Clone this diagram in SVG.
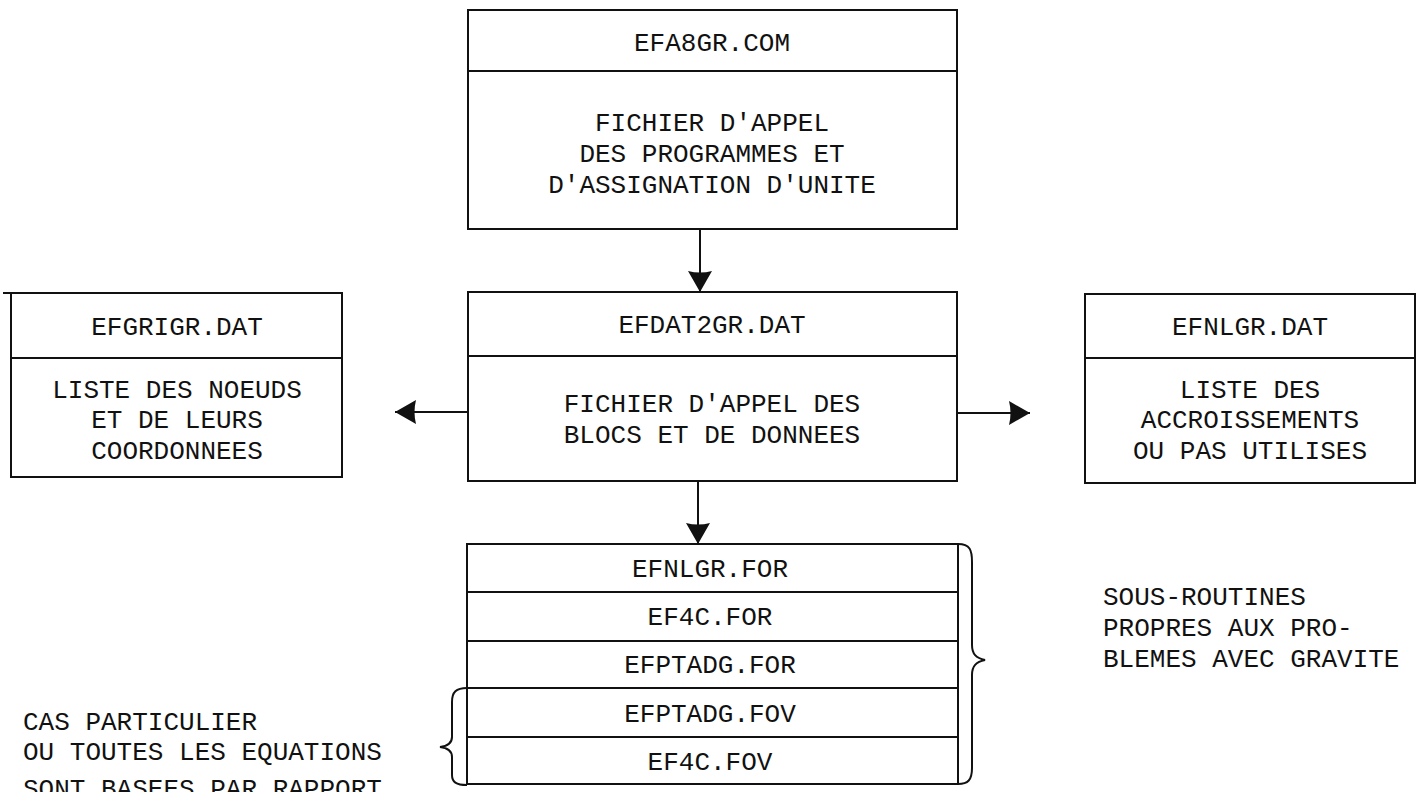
<svg xmlns="http://www.w3.org/2000/svg" width="1425" height="792" viewBox="0 0 1425 792">
<style>
.box{fill:none;stroke:#111;stroke-width:2}
.ln{fill:none;stroke:#111;stroke-width:2}
.t{font-family:"Liberation Mono","Courier New",monospace;font-size:26px;fill:#111}
.c{text-anchor:middle}
</style>
<defs>
<marker id="ah" markerUnits="userSpaceOnUse" markerWidth="26" markerHeight="28" refX="21" refY="13" orient="auto">
<path d="M0,1 L21,13 L0,25 Q3,13 0,1 z" fill="#111"/>
</marker>
</defs>
<rect width="1425" height="792" fill="#fff"/>
<g id="n-efa8gr">
<rect class="box" x="468" y="10" width="489" height="219"/>
<line class="ln" x1="468" y1="71" x2="957" y2="71"/>
<text class="t c" x="712" y="51">EFA8GR.COM</text>
<text class="t c" x="712" y="131">FICHIER D'APPEL</text>
<text class="t c" x="712" y="162">DES PROGRAMMES ET</text>
<text class="t c" x="712" y="193">D'ASSIGNATION D'UNITE</text>
</g>
<g id="n-efdat2gr">
<rect class="box" x="468" y="292" width="489" height="189"/>
<line class="ln" x1="468" y1="356" x2="957" y2="356"/>
<text class="t c" x="712" y="333">EFDAT2GR.DAT</text>
<text class="t c" x="712" y="412">FICHIER D'APPEL DES</text>
<text class="t c" x="712" y="443">BLOCS ET DE DONNEES</text>
</g>
<g id="n-efgrigr">
<rect class="box" x="11" y="293" width="331" height="184"/>
<line class="ln" x1="3" y1="293" x2="11" y2="293"/>
<line class="ln" x1="11" y1="358" x2="342" y2="358"/>
<text class="t c" x="177" y="335">EFGRIGR.DAT</text>
<text class="t c" x="177" y="398">LISTE DES NOEUDS</text>
<text class="t c" x="177" y="428">ET DE LEURS</text>
<text class="t c" x="177" y="459">COORDONNEES</text>
</g>
<g id="n-efnlgr">
<rect class="box" x="1085" y="294" width="330" height="189"/>
<line class="ln" x1="1085" y1="358" x2="1415" y2="358"/>
<text class="t c" x="1250" y="335">EFNLGR.DAT</text>
<text class="t c" x="1250" y="398">LISTE DES</text>
<text class="t c" x="1250" y="428">ACCROISSEMENTS</text>
<text class="t c" x="1250" y="459">OU PAS UTILISES</text>
</g>
<g id="n-stack">
<rect class="box" x="467" y="544" width="491" height="240"/>
<line class="ln" x1="467" y1="592" x2="958" y2="592"/>
<line class="ln" x1="467" y1="641" x2="958" y2="641"/>
<line class="ln" x1="467" y1="688" x2="958" y2="688"/>
<line class="ln" x1="467" y1="737" x2="958" y2="737"/>
<text class="t c" x="710" y="577">EFNLGR.FOR</text>
<text class="t c" x="710" y="625">EF4C.FOR</text>
<text class="t c" x="710" y="673">EFPTADG.FOR</text>
<text class="t c" x="710" y="722">EFPTADG.FOV</text>
<text class="t c" x="710" y="770">EF4C.FOV</text>
</g>
<g id="n-brace-right">
<path class="ln" d="M958,544 C970,544 972,550 972,562 L972,645 C972,654 976,658 985,660 C976,662 972,666 972,675 L972,768 C972,780 968,784 958,784"/>
<text class="t" x="1103" y="605">SOUS-ROUTINES</text>
<text class="t" x="1103" y="636">PROPRES AUX PRO-</text>
<text class="t" x="1103" y="667">BLEMES AVEC GRAVITE</text>
</g>
<g id="n-brace-left">
<path class="ln" d="M467,688 C456,688 452,692 452,702 L452,737 C452,743 448,746 440,747 C448,748 452,751 452,757 L452,775 C452,782 456,785 467,785"/>
<text class="t" x="23" y="730">CAS PARTICULIER</text>
<text class="t" x="23" y="760">OU TOUTES LES EQUATIONS</text>
<text class="t" x="23" y="797">SONT BASEES PAR RAPPORT</text>
</g>
<g id="connectors">
<line class="ln" x1="700" y1="229" x2="700" y2="292" marker-end="url(#ah)"/>
<line class="ln" x1="698" y1="481" x2="698" y2="544" marker-end="url(#ah)"/>
<line class="ln" x1="468" y1="412" x2="395" y2="412" marker-end="url(#ah)"/>
<line class="ln" x1="957" y1="413" x2="1030" y2="413" marker-end="url(#ah)"/>
</g>
</svg>
